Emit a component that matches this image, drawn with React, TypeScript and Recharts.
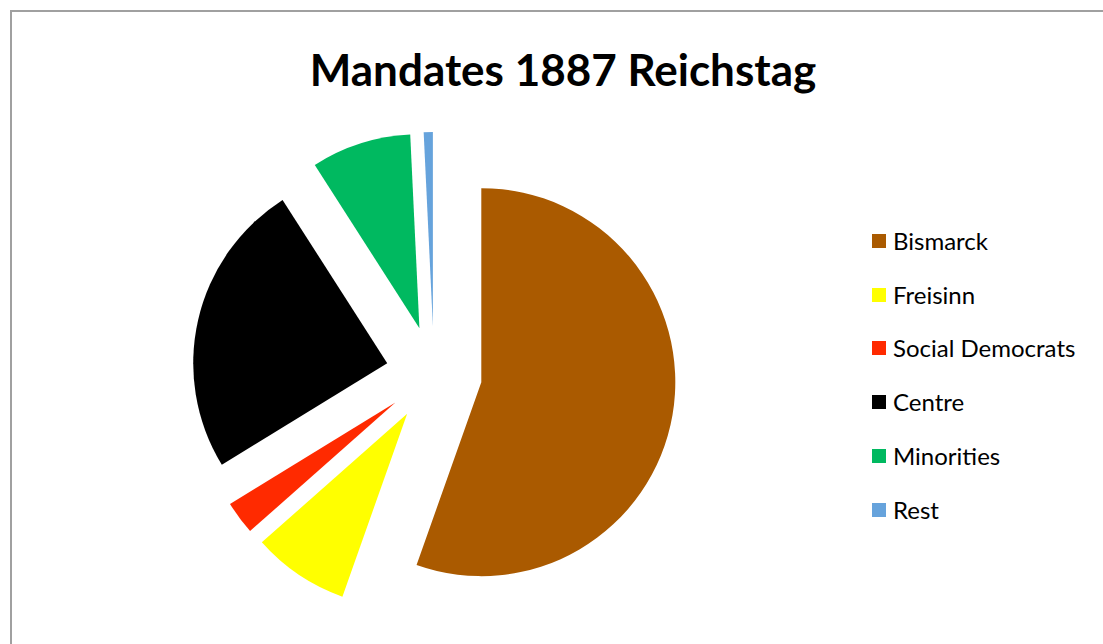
import React from "react";
import { PieChart, Pie, Cell, Sector, Legend } from "recharts";

// Reichstag election 1887, seats per group (397 total)
const parties = ["Bismarck", "Freisinn", "Social Democrats", "Centre", "Minorities", "Rest"];
const seats = [220, 32, 11, 98, 33, 3];
const colors = ["#AA5A00", "#FFFF00", "#FF2A00", "#000000", "#00B960", "#66A3DC"];

const data = parties.map((name, i) => ({ name, value: seats[i] }));

const EXPLODE = 48;
const RAD = Math.PI / 180;

// every slice pulled out from the centre along its mid angle
function ExplodedSlice(props: any) {
  const { cx, cy, midAngle, ...rest } = props;
  const dx = EXPLODE * Math.cos(midAngle * RAD);
  const dy = -EXPLODE * Math.sin(midAngle * RAD);
  return <Sector {...rest} cx={cx + dx} cy={cy + dy} stroke="none" />;
}

function LegendList() {
  return (
    <div>
      {parties.map((p, i) => (
        <div key={p} style={{ display: "flex", alignItems: "center", height: 53.8 }}>
          <span style={{ width: 14, height: 14, background: colors[i], marginRight: 7, display: "inline-block" }} />
          <span style={{ fontSize: 24, color: "#000", lineHeight: "28px" }}>{p}</span>
        </div>
      ))}
    </div>
  );
}

export default function App() {
  return (
    <div style={{ position: "absolute", left: 0, top: 0, width: 1103, height: 644, overflow: "hidden", background: "#fff", fontFamily: "Lato, 'Open Sans', sans-serif" }}>
      <div style={{ position: "absolute", left: 10, top: 10, width: 1200, height: 700, border: "2px solid #A0A0A0", boxSizing: "border-box" }} />
      <div style={{ position: "absolute", left: 0, width: 1126, top: 41, textAlign: "center", fontSize: 44, fontWeight: 700, color: "#000", lineHeight: "56px" }}>
        Mandates 1887 Reichstag
      </div>
      <div style={{ position: "absolute", left: 0, top: 0 }}>
        <PieChart width={1103} height={644} margin={{ top: 0, right: 0, bottom: 0, left: 0 }}>
          <Pie
            data={data}
            dataKey="value"
            nameKey="name"
            cx={434}
            cy={374}
            outerRadius={194}
            startAngle={90}
            endAngle={-270}
            stroke="none"
            shape={ExplodedSlice}
            isAnimationActive={false}
          >
            {data.map((d, i) => (
              <Cell key={d.name} fill={colors[i]} />
            ))}
          </Pie>
          <Legend
            layout="vertical"
            align="right"
            verticalAlign="top"
            wrapperStyle={{ left: 872, top: 214, width: 230 }}
            content={() => <LegendList />}
          />
        </PieChart>
      </div>
    </div>
  );
}
